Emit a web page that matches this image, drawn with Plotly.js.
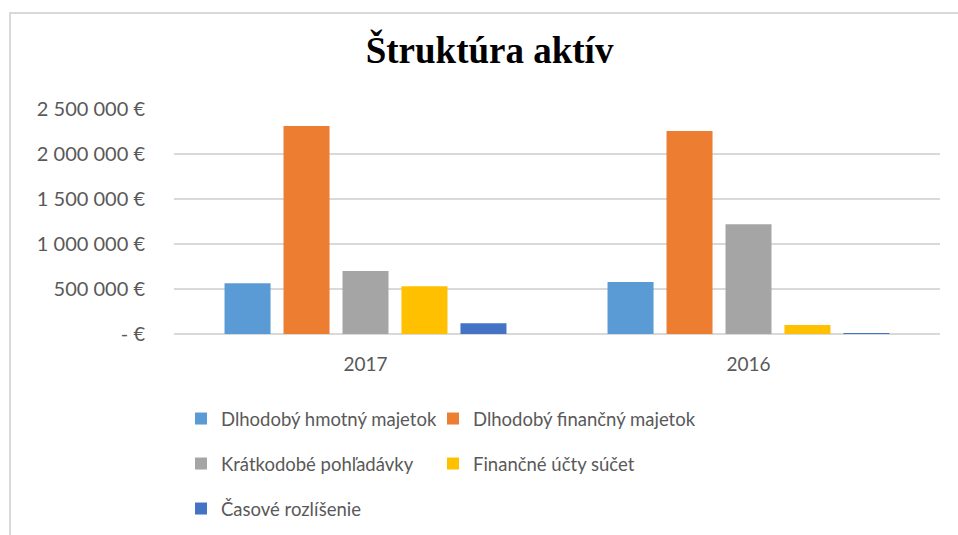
<!DOCTYPE html>
<html>
<head>
<meta charset="utf-8">
<script src="https://cdn.plot.ly/plotly-3.0.1.min.js"></script>
<style>html,body{margin:0;padding:0;background:#fff;}#chart{width:958px;height:535px;}</style>
</head>
<body>
<div id="chart"></div>
<script>
// Data
const years = ["2017", "2016"];
const seriesNames = [
  "Dlhodobý hmotný majetok",
  "Dlhodobý finančný majetok",
  "Krátkodobé pohľadávky",
  "Finančné účty súčet",
  "Časové rozlíšenie"
];
const hmotnyMajetok = [565000, 578000];
const financnyMajetok = [2310000, 2256000];
const kratkodobePohladavky = [700000, 1219000];
const financneUcty = [530000, 100000];
const casoveRozlisenie = [120000, 4000];
const yTickVals = [0, 500000, 1000000, 1500000, 2000000, 2500000];
const yTickText = ["- €", "500 000 €", "1 000 000 €", "1 500 000 €", "2 000 000 €", "2 500 000 €"];

const seriesValues = [hmotnyMajetok, financnyMajetok, kratkodobePohladavky, financneUcty, casoveRozlisenie];
const colors = ["#5B9BD5", "#ED7D31", "#A5A5A5", "#FFC000", "#4472C4"];
const legendIds = ["legend", "legend2", "legend3", "legend4", "legend5"];

const traces = seriesNames.map((name, i) => ({
  type: "bar",
  name: name,
  x: years,
  y: seriesValues[i],
  marker: {color: colors[i]},
  legend: legendIds[i],
  hoverinfo: "name+y"
}));

const legendFont = {family: "Lato, 'Open Sans', sans-serif", size: 18.5, color: "#595959"};
function mkLegend(xPx, yPx) {
  return {
    orientation: "h",
    xref: "container", yref: "container",
    x: xPx / 958, y: 1 - yPx / 535,
    xanchor: "left", yanchor: "middle",
    font: legendFont,
    bgcolor: "rgba(0,0,0,0)",
    traceorder: "normal"
  };
}

const layout = {
  width: 958, height: 535,
  margin: {l: 174, r: 18, t: 109, b: 201},
  paper_bgcolor: "#ffffff",
  plot_bgcolor: "#ffffff",
  title: {
    text: "<b>Štruktúra aktív</b>",
    font: {family: "'Liberation Serif', 'Times New Roman', serif", size: 37, color: "#000000"},
    xref: "container", yref: "container",
    x: 0.511, xanchor: "center",
    y: 1 - 63/535, yanchor: "bottom"
  },
  barmode: "group",
  bargap: 0.23,
  bargroupgap: 0.22,
  xaxis: {
    type: "category",
    showgrid: false,
    showline: false,
    ticks: "",
    tickfont: {family: "Lato, 'Open Sans', sans-serif", size: 19, color: "#595959"},
    ticklabelstandoff: 17,
    fixedrange: true
  },
  yaxis: {
    range: [0, 2500000],
    tickvals: yTickVals,
    ticktext: yTickText,
    tickfont: {family: "Lato, 'Open Sans', sans-serif", size: 20, color: "#595959"},
    showgrid: true,
    gridcolor: "#D9D9D9",
    gridwidth: 1.5,
    zeroline: true,
    zerolinecolor: "#D9D9D9",
    zerolinewidth: 1.5,
    showline: false,
    ticks: "",
    ticklabelstandoff: 28,
    fixedrange: true
  },
  showlegend: true,
  legend: mkLegend(181, 419),
  legend2: mkLegend(433, 419),
  legend3: mkLegend(181, 464),
  legend4: mkLegend(433, 464),
  legend5: mkLegend(181, 509),
  shapes: [{
    type: "path",
    xref: "paper", yref: "paper",
    path: "M -0.2141,-0.95 L -0.2141,1.4267 L 1.05,1.4267",
    line: {color: "#D9D9D9", width: 2}
  }]
};

Plotly.newPlot("chart", traces, layout, {displayModeBar: false});
</script>
</body>
</html>
